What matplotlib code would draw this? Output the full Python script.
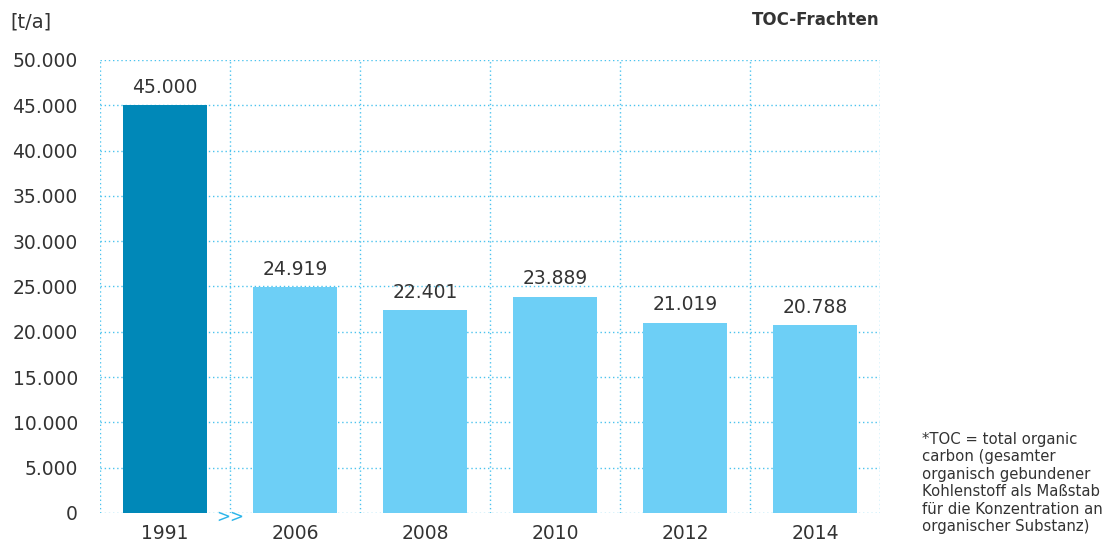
import matplotlib.pyplot as plt
import numpy as np

years = ["1991", "2006", "2008", "2010", "2012", "2014"]
loads = [45000, 24919, 22401, 23889, 21019, 20788]
yticks = [0, 5000, 10000, 15000, 20000, 25000, 30000, 35000, 40000, 45000, 50000]

dark = "#0088b8"
light = "#6dcff6"
grid = "#4cc3ee"
txt = "#333333"

plt.rcParams['font.family'] = ['DejaVu Sans']

fig = plt.figure(figsize=(11.2, 5.46), dpi=100)
ax = fig.add_axes([100/1120, 33/546, 780/1120, 453/546])

x = np.arange(len(years))
colors = [dark] + [light] * (len(years) - 1)
ax.bar(x, loads, width=0.65, color=colors, zorder=2)

def fmt(v):
    return f"{v:,}".replace(",", ".")

for xi, v in zip(x, loads):
    ax.text(xi, v + 900, fmt(v), ha="center", va="bottom", fontsize=13.5, color=txt)

ax.set_xlim(-0.5, len(years) - 0.5)
ax.set_ylim(0, 50000)
ax.set_yticks(yticks)
ax.set_yticklabels([fmt(v) for v in yticks])
ax.set_xticks(x)
ax.set_xticklabels(years)
ax.tick_params(length=0, labelsize=13.5, colors=txt)
ax.tick_params(axis="y", pad=16)
ax.tick_params(axis="x", pad=8)

# dotted grid incl. category boundaries
for yv in yticks:
    ax.axhline(yv, color=grid, lw=1, ls=(0, (1, 2)), zorder=1)
for b in np.arange(-0.5, len(years), 1.0):
    ax.axvline(b, color=grid, lw=1, ls=(0, (1, 2)), zorder=1)
for s in ax.spines.values():
    s.set_visible(False)

ax.text(0.5, -400, ">>", ha="center", va="center", fontsize=12, color="#2bb5ea")

fig.text(10/1120, 1 - 22/546, "[t/a]", fontsize=14, color=txt, va="center")
fig.text(880/1120, 1 - 20/546, "TOC-Frachten", fontsize=12, fontweight="bold",
         color=txt, ha="right", va="center")
fig.text(922/1120, 1 - 432/546,
         "*TOC = total organic\ncarbon (gesamter\norganisch gebundener\nKohlenstoff als Maßstab\nfür die Konzentration an\norganischer Substanz)",
         fontsize=10.7, color=txt, va="top", linespacing=1.2)

fig.savefig("out.png", dpi=100)
